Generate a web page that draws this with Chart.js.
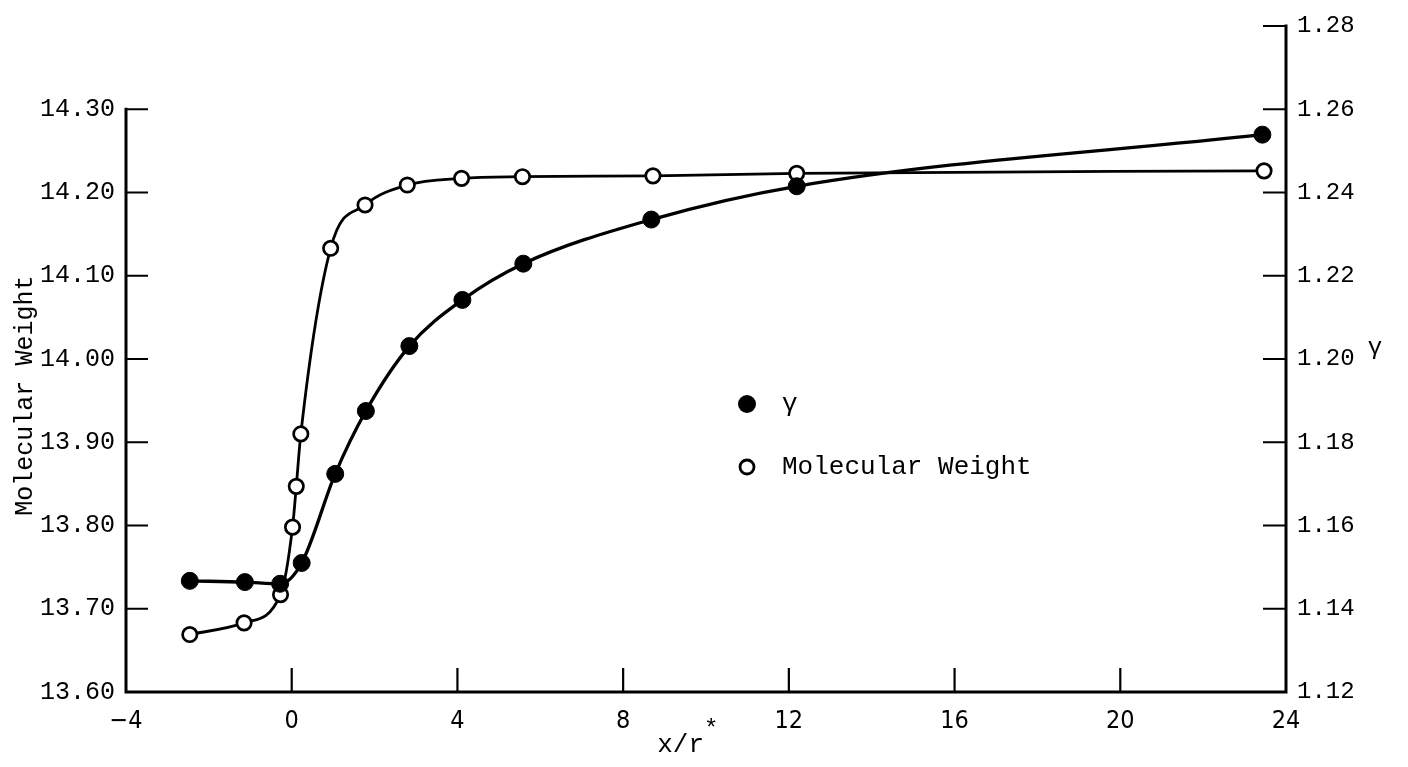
<!DOCTYPE html>
<html>
<head>
<meta charset="utf-8">
<script src="https://cdn.jsdelivr.net/npm/chart.js@4.4.0/dist/chart.umd.min.js"></script>
<style>
  html, body { margin: 0; padding: 0; background: #fff; }
  #wrap { width: 1408px; height: 767px; position: relative; }
</style>
</head>
<body>
<div id="wrap"><canvas id="c"></canvas></div>
<script>
// Series names (legend order)
const seriesNames = ['γ', 'Molecular Weight'];

// γ (filled circles, right axis)
const gammaX = [-2.46, -1.13, -0.28, 0.24, 1.05, 1.79, 2.84, 4.12, 5.59, 8.68, 12.19, 23.43];
const gammaY = [1.1467, 1.1464, 1.1460, 1.1510, 1.1724, 1.1875, 1.2031, 1.2142, 1.2229, 1.2335, 1.2415, 1.2539];

// Molecular weight (open circles, left axis)
const mwX = [-2.46, -1.15, -0.27, 0.02, 0.11, 0.22, 0.94, 1.77, 2.79, 4.10, 5.57, 8.72, 12.19, 23.47];
const mwY = [13.669, 13.683, 13.717, 13.798, 13.847, 13.910, 14.133, 14.185, 14.209, 14.217, 14.219, 14.220, 14.223, 14.226];

// Tick labels
const xTicks = [-4, 0, 4, 8, 12, 16, 20, 24];
const mwTicks = [13.60, 13.70, 13.80, 13.90, 14.00, 14.10, 14.20, 14.30];
const gammaTicks = [1.12, 1.14, 1.16, 1.18, 1.20, 1.22, 1.24, 1.26, 1.28];

// Axis titles
const xTitle = 'x/r';
const xTitleMark = '*';
const mwTitle = 'Molecular Weight';
const gammaTitle = 'γ';

const MONO = '"Liberation Mono", "Courier New", monospace';
const NARROW = '"Liberation Sans Narrow", "DejaVu Sans Condensed", "Liberation Sans", sans-serif';

const toPts = (xs, ys) => xs.map((x, i) => ({ x: x, y: ys[i] }));

// Axis frame, inward tick marks, titles and legend
const frame = {
  id: 'frame',
  beforeDatasetsDraw(chart) {
    const { ctx, scales: { x, yM, yG } } = chart;
    const xl = x.getPixelForValue(xTicks[0]);
    const xr = x.getPixelForValue(xTicks[xTicks.length - 1]);
    const yb = yM.getPixelForValue(mwTicks[0]);
    const yTopM = yM.getPixelForValue(mwTicks[mwTicks.length - 1]);
    const yTopG = yG.getPixelForValue(gammaTicks[gammaTicks.length - 1]);
    ctx.save();
    ctx.strokeStyle = '#000';
    ctx.lineWidth = 3;
    ctx.lineCap = 'square';
    ctx.lineJoin = 'miter';
    ctx.beginPath();
    ctx.moveTo(xl, yTopM);
    ctx.lineTo(xl, yb);
    ctx.lineTo(xr, yb);
    ctx.lineTo(xr, yTopG);
    ctx.stroke();

    ctx.lineWidth = 2.2;
    ctx.lineCap = 'butt';
    ctx.beginPath();
    mwTicks.slice(1).forEach(v => {
      const p = yM.getPixelForValue(v);
      ctx.moveTo(xl, p); ctx.lineTo(xl + 22, p);
    });
    gammaTicks.slice(1).forEach(v => {
      const p = yG.getPixelForValue(v);
      ctx.moveTo(xr, p); ctx.lineTo(xr - 23, p);
    });
    xTicks.slice(1, -1).forEach(v => {
      const p = x.getPixelForValue(v);
      ctx.moveTo(p, yb); ctx.lineTo(p, yb - 24);
    });
    ctx.stroke();
    ctx.restore();
  },
  afterDraw(chart) {
    const { ctx, chartArea, scales: { yM, yG } } = chart;
    ctx.save();
    ctx.fillStyle = '#000';

    // left title, rotated
    const midM = (yM.getPixelForValue(mwTicks[0]) + yM.getPixelForValue(mwTicks[mwTicks.length - 1])) / 2 - 5;
    ctx.save();
    ctx.translate(chartArea.left - 101, midM);
    ctx.rotate(-Math.PI / 2);
    ctx.font = '25px ' + MONO;
    ctx.textAlign = 'center';
    ctx.textBaseline = 'middle';
    ctx.fillText(mwTitle, 0, 0);
    ctx.restore();

    // bottom title with raised star
    const cx = (chartArea.left + chartArea.right) / 2;
    ctx.font = '26px ' + MONO;
    ctx.textAlign = 'right';
    ctx.textBaseline = 'middle';
    ctx.fillText(xTitle, cx - 2, chartArea.bottom + 53);
    ctx.textAlign = 'left';
    ctx.font = '24px ' + MONO;
    ctx.fillText(xTitleMark, cx - 2, chartArea.bottom + 38);

    // right title
    ctx.font = '24px ' + MONO;
    ctx.textAlign = 'center';
    ctx.fillText(gammaTitle, chartArea.right + 89, yG.getPixelForValue(1.2) - 11);

    // legend
    const lx = 747, ly = [404, 467];
    ctx.beginPath();
    ctx.arc(lx, ly[0], 9, 0, Math.PI * 2);
    ctx.fill();
    ctx.beginPath();
    ctx.lineWidth = 2.8;
    ctx.strokeStyle = '#000';
    ctx.fillStyle = '#fff';
    ctx.arc(lx, ly[1], 7, 0, Math.PI * 2);
    ctx.fill();
    ctx.stroke();
    ctx.fillStyle = '#000';
    ctx.font = '26px ' + MONO;
    ctx.textAlign = 'left';
    ctx.textBaseline = 'middle';
    ctx.fillText(seriesNames[0], 782, ly[0]);
    ctx.fillText(seriesNames[1], 782, ly[1]);
    ctx.restore();
  }
};

new Chart(document.getElementById('c'), {
  type: 'line',
  data: {
    datasets: [
      {
        label: seriesNames[0],
        data: toPts(gammaX, gammaY),
        yAxisID: 'yG',
        borderColor: '#000',
        borderWidth: 3.3,
        backgroundColor: '#000',
        pointRadius: 8.5,
        pointBorderWidth: 1,
        pointBackgroundColor: '#000',
        pointBorderColor: '#000',
        cubicInterpolationMode: 'monotone',
        fill: false,
        order: 0
      },
      {
        label: seriesNames[1],
        data: toPts(mwX, mwY),
        yAxisID: 'yM',
        borderColor: '#000',
        borderWidth: 2.8,
        backgroundColor: '#fff',
        pointRadius: 7.2,
        pointBorderWidth: 2.7,
        pointBackgroundColor: '#fff',
        pointBorderColor: '#000',
        cubicInterpolationMode: 'monotone',
        fill: false,
        order: 1
      }
    ]
  },
  options: {
    responsive: true,
    maintainAspectRatio: false,
    devicePixelRatio: 1,
    animation: false,
    layout: { padding: { top: 16, left: 0, right: 0, bottom: 0 } },
    plugins: { legend: { display: false }, tooltip: { enabled: false } },
    scales: {
      x: {
        type: 'linear',
        position: 'bottom',
        min: -4, max: 24,
        grid: { display: false, drawTicks: false },
        border: { display: false },
        afterBuildTicks: s => { s.ticks = xTicks.map(v => ({ value: v })); },
        afterFit: s => { s.height = 75; },
        ticks: {
          autoSkip: false, maxRotation: 0, padding: 14, color: '#000',
          font: { family: NARROW, size: 25 },
          callback: v => (v < 0 ? '\u2212' + Math.abs(v) : String(v))
        }
      },
      yM: {
        type: 'linear',
        position: 'left',
        min: 13.60, max: 14.40,
        grid: { display: false, drawTicks: false },
        border: { display: false },
        afterBuildTicks: s => { s.ticks = mwTicks.map(v => ({ value: v })); },
        afterFit: s => { s.width = 126; },
        ticks: {
          autoSkip: false, padding: 11, color: '#000',
          font: { family: MONO, size: 25 },
          callback: v => Number(v).toFixed(2)
        }
      },
      yG: {
        type: 'linear',
        position: 'right',
        min: 1.12, max: 1.28,
        grid: { display: false, drawTicks: false },
        border: { display: false },
        afterBuildTicks: s => { s.ticks = gammaTicks.map(v => ({ value: v })); },
        afterFit: s => { s.width = 122; },
        ticks: {
          autoSkip: false, padding: 11, color: '#000',
          font: { family: MONO, size: 24 },
          callback: v => Number(v).toFixed(2)
        }
      }
    }
  },
  plugins: [frame]
});
</script>
</body>
</html>
